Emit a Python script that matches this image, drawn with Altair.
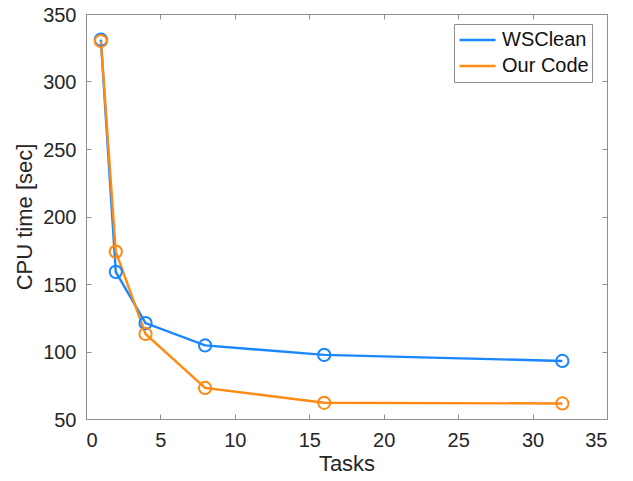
import altair as alt
import pandas as pd

tasks = [1, 2, 4, 8, 16, 32]
wsclean = [331, 159, 121, 104.5, 97.5, 93]
our_code = [330, 174, 113, 73, 62, 61.5]
series_names = ["WSClean", "Our Code"]
series_colors = ["#1A86FF", "#FF8A14"]
x_ticks = [0, 5, 10, 15, 20, 25, 30, 35]
y_ticks = [50, 100, 150, 200, 250, 300, 350]

rows = []
for name, vals in zip(series_names, [wsclean, our_code]):
    for t, v in zip(tasks, vals):
        rows.append({"Tasks": t, "CPU": v, "Series": name})
df = pd.DataFrame(rows)

FONT = "Liberation Sans"
TXT = "#262626"
BOX = "#8f8f8f"

x_scale = alt.Scale(domain=[0, 35], nice=False, zero=False)
y_scale = alt.Scale(domain=[50, 350], nice=False, zero=False)

lines = alt.Chart(df).mark_line(
    strokeWidth=2.4,
    point=alt.OverlayMarkDef(filled=False, size=150, strokeWidth=2),
).encode(
    x=alt.X("Tasks:Q", scale=x_scale,
            axis=alt.Axis(values=x_ticks, orient="bottom", offset=-5, tickSize=5,
                          domain=False, labelPadding=11, title="Tasks", titlePadding=3)),
    y=alt.Y("CPU:Q", scale=y_scale,
            axis=alt.Axis(values=y_ticks, orient="left", offset=-5, tickSize=5,
                          domain=False, labelPadding=10, labelOffset=1,
                          title="CPU time [sec]", titlePadding=6)),
    color=alt.Color("Series:N",
                    scale=alt.Scale(domain=series_names, range=series_colors),
                    sort=series_names,
                    legend=alt.Legend(orient="none", legendX=368, legendY=10, title=None,
                                      symbolType="M-1,0L1,0", symbolSize=1296,
                                      symbolStrokeWidth=2.5, labelFontSize=20,
                                      labelFont=FONT, labelColor="#111111",
                                      strokeColor=BOX, fillColor="white",
                                      padding=3, labelOffset=5, rowPadding=0,
                                      clipHeight=26,
                                      symbolOffset=1, cornerRadius=0)),
    order=alt.Order("Tasks:Q"),
)

frame = alt.Chart(df).mark_point(opacity=0).encode(
    x=alt.X("Tasks:Q", scale=x_scale,
            axis=alt.Axis(values=x_ticks, orient="top", offset=-5, tickSize=5,
                          domain=False, labels=False, title=None)),
    y=alt.Y("CPU:Q", scale=y_scale,
            axis=alt.Axis(values=y_ticks, orient="right", offset=-5, tickSize=5,
                          domain=False, labels=False, title=None)),
)

chart = alt.layer(lines, frame).resolve_axis(
    x="independent", y="independent"
).properties(
    width=521, height=405,
    autosize=alt.AutoSizeParams(type="none"),
    padding={"left": 78, "top": 6, "right": 18, "bottom": 62},
    background="white",
).configure_view(
    stroke=BOX, strokeWidth=1
).configure_axis(
    grid=False, labelFont=FONT, labelFontSize=20, labelColor=TXT,
    titleFont=FONT, titleFontSize=22, titleFontWeight="normal", titleColor=TXT,
    tickColor=BOX, tickWidth=1,
)

chart.save("out.html", embed_options={"renderer": "svg", "actions": False})
